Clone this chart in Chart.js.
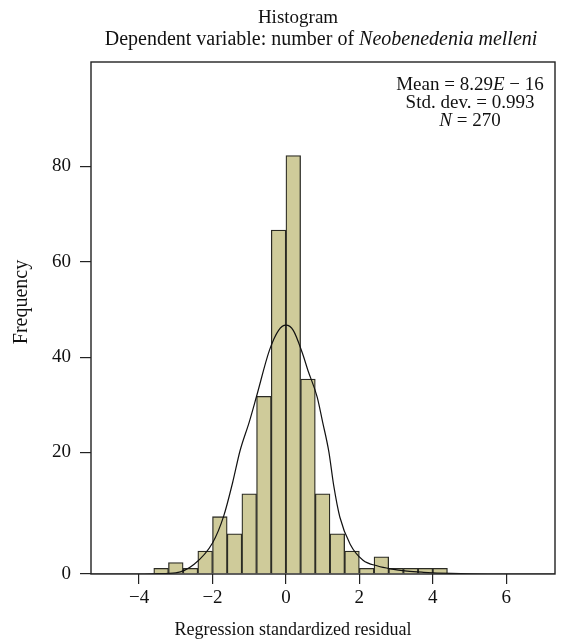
<!DOCTYPE html>
<html><head><meta charset="utf-8">
<script src="https://cdn.jsdelivr.net/npm/chart.js@4.4.1/dist/chart.umd.min.js"></script>
<style>html,body{margin:0;padding:0;background:#fff}canvas{display:block}</style>
</head><body>
<canvas id="c" width="563" height="644"></canvas>
<script>
// ---- data ----
const binCenters = [-3.4,-3.0,-2.6,-2.2,-1.8,-1.4,-1.0,-0.6,-0.2,0.2,0.6,1.0,1.4,1.8,2.2,2.6,3.0,3.4,3.8,4.2];
const frequencies = [1,2,1,4,10,7,14,31,60,73,34,14,7,4,1,3,1,1,1,1];
const curveX = [-5.31,-4.0,-3.5,-3.0,-2.5,-2.0,-1.7,-1.45,-1.25,-1.0,-0.8,-0.45,-0.2,0,0.2,0.45,0.6,0.85,1.0,1.17,1.3,1.47,1.75,2.1,2.5,2.85,3.3,3.75,4.5,5.5,7.33];
const curveY = [0,0,0.05,0.2,1.7,5.4,10,16,21.5,26.5,31,39,42.5,43.4,42.5,38.5,35.5,30.9,26.5,21.3,15.5,9.9,5.2,2.4,1.4,0.9,0.5,0.3,0.1,0,0];
const xTicks = [-4,-2,0,2,4,6];
const yTickLabels = ['0','20','40','60','80'];
const yTickValues = [0,21.2,37.8,54.4,71.1]; // where the printed labels sit on the count scale
const titleText = 'Histogram';
const subtitleParts = [['Dependent variable: number of ',''],['Neobenedenia melleni','italic']];
const statLines = [
  [['Mean = 8.29',''],['E','italic'],[' \u2212 16','']],
  [['Std. dev. = 0.993','']],
  [['N','italic'],[' = 270','']]
];
const xTitle = 'Regression standardized residual';
const yTitle = 'Frequency';

const FONT = "'Liberation Serif', 'DejaVu Serif', serif";
const FS = 19;

function drawRich(ctx, parts, cx, cy, size){
  let total = 0;
  parts.forEach(p => { ctx.font = (p[1] ? p[1]+' ' : '') + size + 'px ' + FONT; total += ctx.measureText(p[0]).width; });
  let x = cx - total/2;
  ctx.textAlign = 'left'; ctx.textBaseline = 'middle'; ctx.fillStyle = '#111';
  parts.forEach(p => { ctx.font = (p[1] ? p[1]+' ' : '') + size + 'px ' + FONT; ctx.fillText(p[0], x, cy); x += ctx.measureText(p[0]).width; });
}

const decor = {
  id: 'decor',
  afterDraw(chart){
    const ctx = chart.ctx, a = chart.chartArea;
    ctx.save();
    ctx.strokeStyle = '#222'; ctx.lineWidth = 1.4;
    ctx.strokeRect(a.left, a.top, a.right - a.left, a.bottom - a.top);
    drawRich(ctx, [[titleText,'']], 298, 18, FS);
    drawRich(ctx, subtitleParts, 321, 40, 20);
    statLines.forEach((l,i) => drawRich(ctx, l, 470, 85 + i*18, FS));
    drawRich(ctx, [[xTitle,'']], 293, 630, 18);
    ctx.translate(22, 302); ctx.rotate(-Math.PI/2);
    drawRich(ctx, [[yTitle,'']], 0, 0, 20);
    ctx.restore();
  }
};

new Chart(document.getElementById('c'), {
  data: {
    datasets: [
      { type: 'line', order: 0, data: curveX.map((x,i)=>({x, y: curveY[i]})),
        borderColor: '#111', borderWidth: 1.2, pointRadius: 0, fill: false, cubicInterpolationMode: 'monotone' },
      { type: 'bar', order: 1, data: binCenters.map((x,i)=>({x, y: frequencies[i]})),
        backgroundColor: '#cfcb9a', borderColor: '#2b2b24', borderWidth: 1.3,
        barPercentage: 1.0, categoryPercentage: 1.0 }
    ]
  },
  options: {
    responsive: false, animation: false,
    layout: { padding: { top: 62, right: 8, left: 0, bottom: 0 } },
    plugins: { legend: { display: false }, tooltip: { enabled: false } },
    scales: {
      x: { type: 'linear', min: -5.31, max: 7.33, offset: false,
        afterBuildTicks: s => { s.ticks = xTicks.map(v => ({value: v})); },
        afterFit: s => { s.height = 70; },
        grid: { offset: false, drawOnChartArea: false, drawTicks: true, tickLength: 10, color: '#222', lineWidth: 1.2 },
        border: { display: false },
        ticks: { color: '#111', padding: 3, font: { family: FONT, size: FS }, maxRotation: 0,
          callback: v => (v < 0 ? '\u2212' + Math.abs(v) : String(v)) } },
      y: { type: 'linear', min: 0, max: 89.3,
        afterBuildTicks: s => { s.ticks = yTickValues.map(v => ({value: v})); },
        afterFit: s => { s.width = 91; },
        grid: { drawOnChartArea: false, drawTicks: true, tickLength: 11, color: '#222', lineWidth: 1.2 },
        border: { display: false },
        ticks: { color: '#111', padding: 9, font: { family: FONT, size: FS },
          callback: (v, i) => yTickLabels[i] } }
    }
  },
  plugins: [decor]
});
</script>
</body></html>
